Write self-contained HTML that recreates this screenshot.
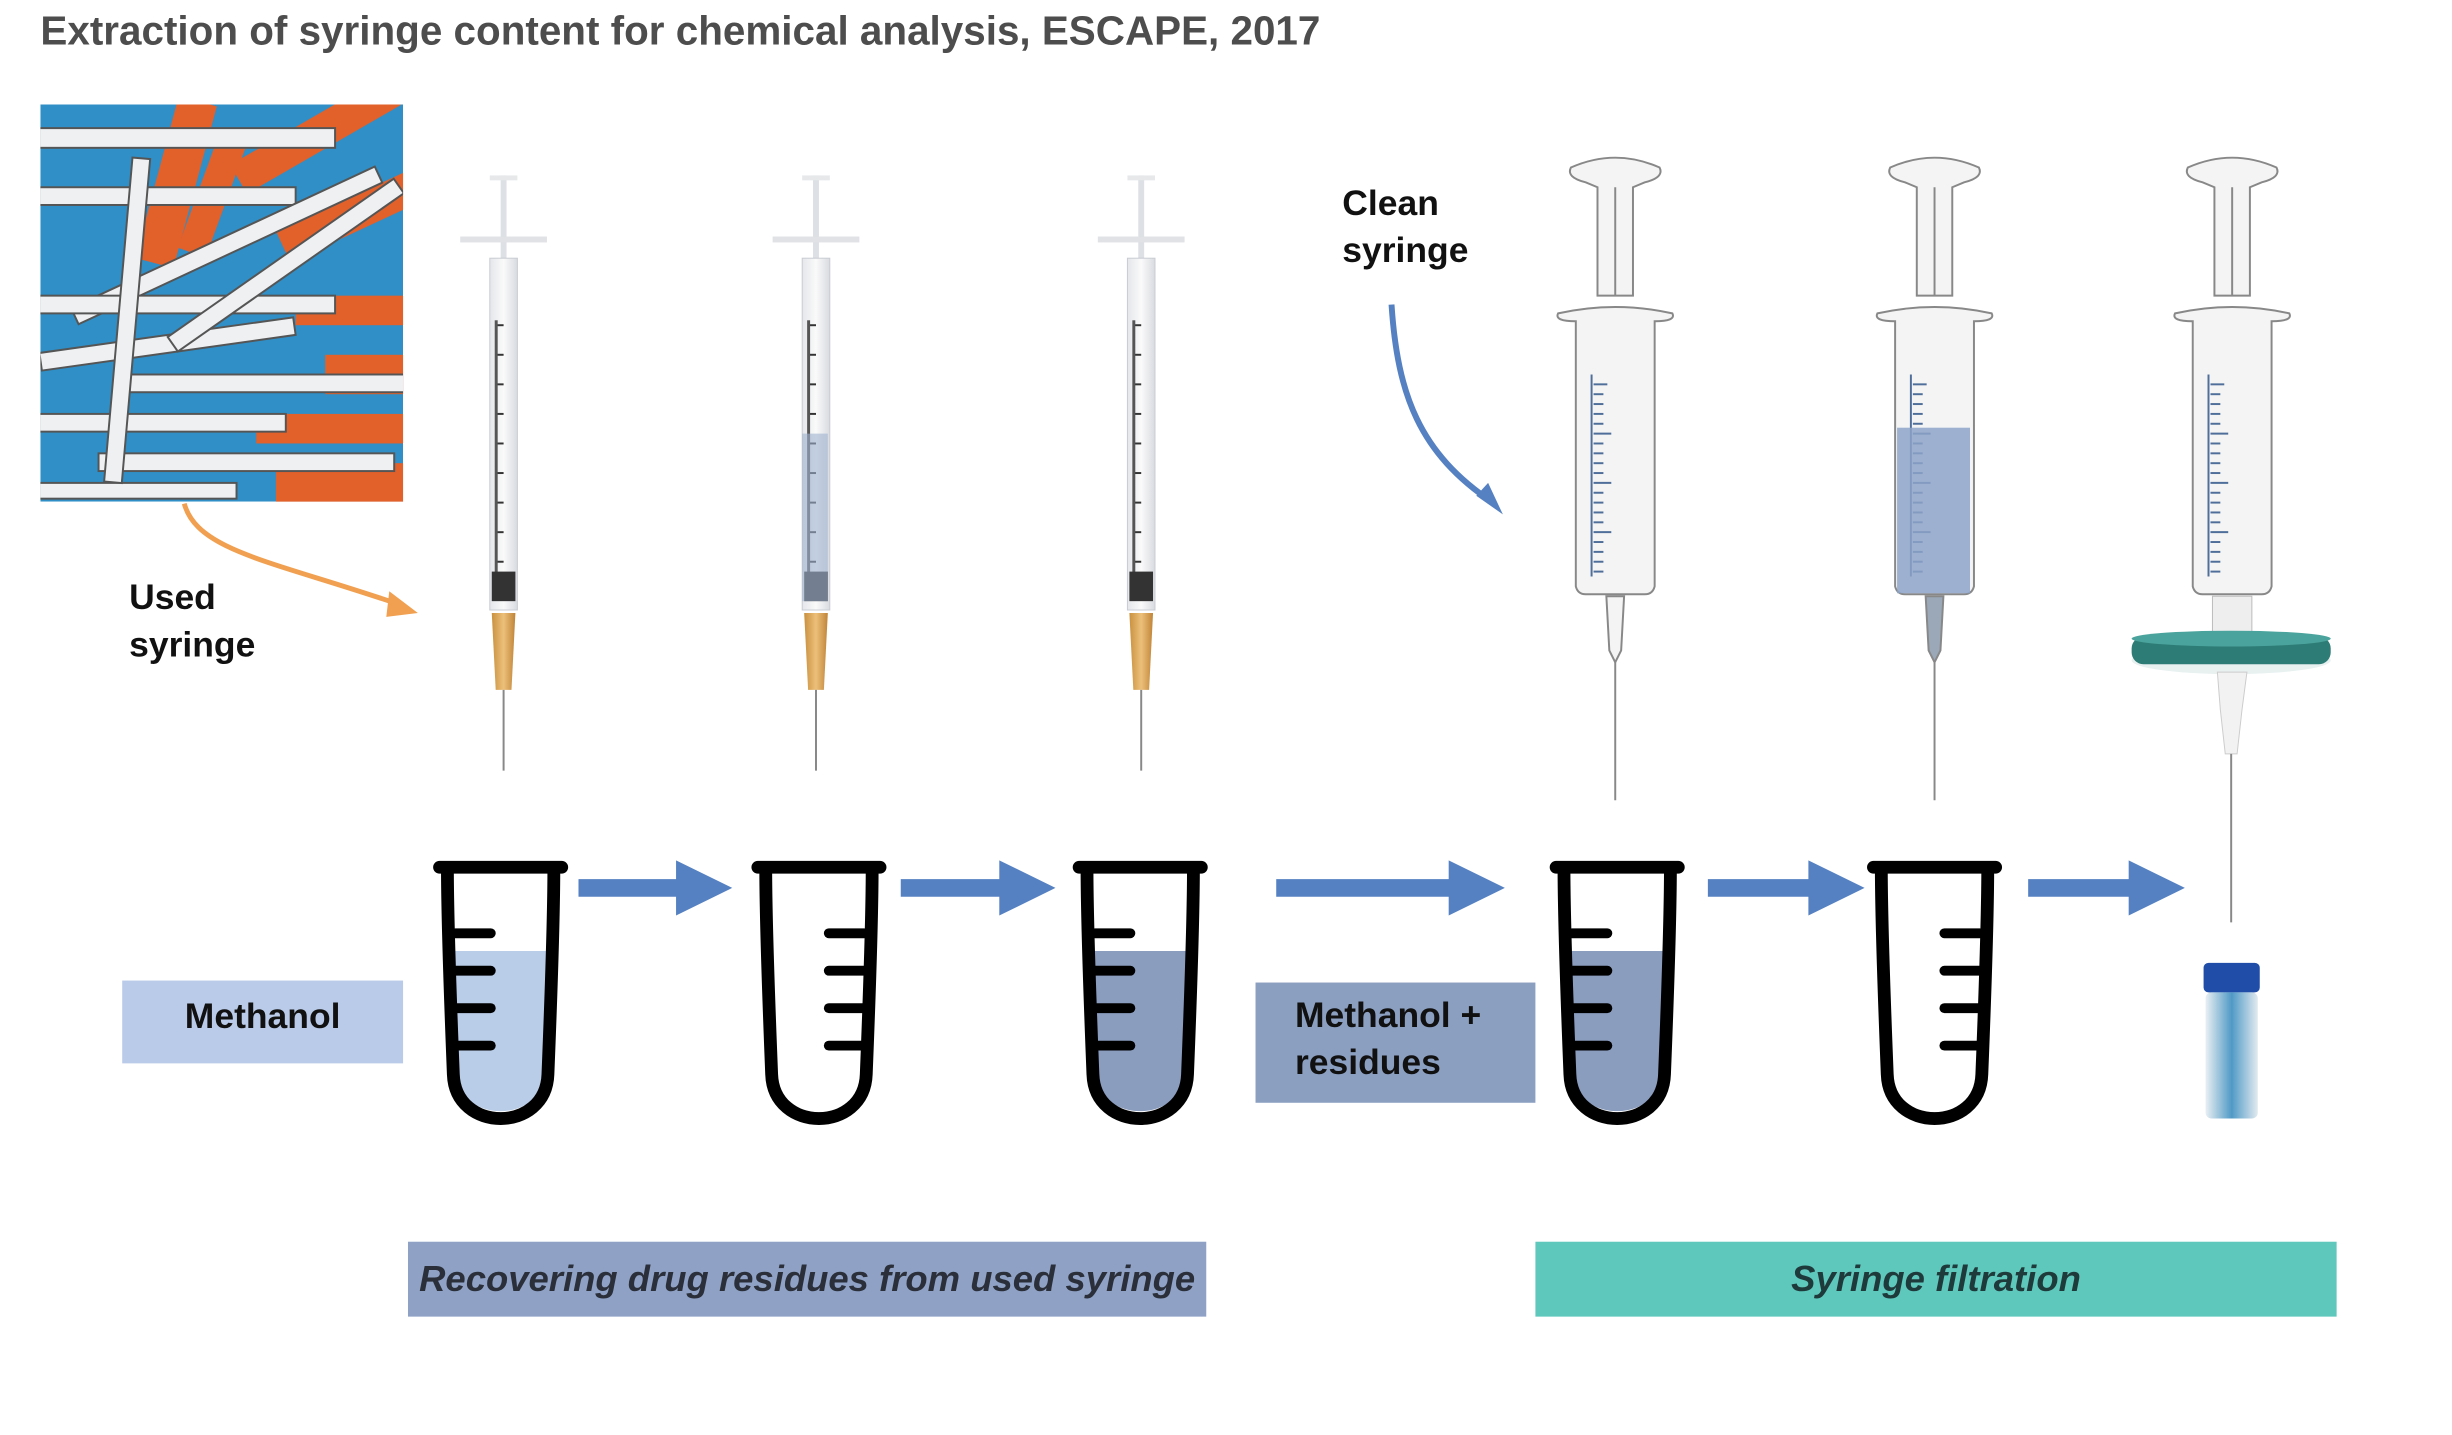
<!DOCTYPE html>
<html><head><meta charset="utf-8"><style>
html,body{margin:0;padding:0;background:#fff;}
body{width:2452px;height:1435px;overflow:hidden;position:relative;font-family:"Liberation Sans",sans-serif;}
#w{position:absolute;left:0;top:0;width:2452px;height:1435px;transform:scale(0.9855);transform-origin:0 0;}
.t{position:absolute;white-space:nowrap;}
</style></head><body><div id="w">
<svg width="2452" height="1435" viewBox="0 0 2452 1435" style="position:absolute;left:0;top:0">
<defs>
<linearGradient id="bar" x1="0" x2="1"><stop offset="0" stop-color="#e4e6ea"/><stop offset=".5" stop-color="#fafafa"/><stop offset="1" stop-color="#d8dbe0"/></linearGradient>
<linearGradient id="hub" x1="0" x2="1"><stop offset="0" stop-color="#c9913f"/><stop offset=".5" stop-color="#ecc07a"/><stop offset="1" stop-color="#c08438"/></linearGradient>
<linearGradient id="vial" x1="0" x2="1"><stop offset="0" stop-color="#e8eef2"/><stop offset=".5" stop-color="#3d8fc0"/><stop offset="1" stop-color="#dfe8ee"/></linearGradient>
<clipPath id="cc"><rect x="41" y="106" width="368" height="403"/></clipPath>
<g id="ss">
<rect x="-3" y="178" width="6" height="90" fill="#dde0e4"/>
<rect x="-14" y="178" width="28" height="5" fill="#e6e8ea"/>
<rect x="-44" y="240" width="88" height="6" fill="#e0e2e6"/>
<rect x="-14" y="262" width="28" height="357" fill="url(#bar)" stroke="#c8ccd2"/>
<g stroke="#333" stroke-width="2">
<line x1="-8" y1="330" x2="0" y2="330"/><line x1="-8" y1="360" x2="0" y2="360"/><line x1="-8" y1="390" x2="0" y2="390"/><line x1="-8" y1="420" x2="0" y2="420"/><line x1="-8" y1="450" x2="0" y2="450"/><line x1="-8" y1="480" x2="0" y2="480"/><line x1="-8" y1="510" x2="0" y2="510"/><line x1="-8" y1="540" x2="0" y2="540"/><line x1="-8" y1="570" x2="0" y2="570"/>
</g>
<rect x="-9" y="325" width="3" height="260" fill="#555"/>
<rect x="-12" y="580" width="24" height="30" fill="#333"/>
<path d="M-12,622 L12,622 L8,700 L-8,700 Z" fill="url(#hub)"/>
<line x1="0" y1="700" x2="0" y2="782" stroke="#888" stroke-width="2"/>
</g>
<g id="bs" fill="#f4f4f4" stroke="#888" stroke-width="2">
<path d="M-45,170 Q0,150 45,170 Q50,180 30,185 L18,190 L18,300 L-18,300 L-18,190 L-30,185 Q-50,180 -45,170 Z"/>
<line x1="0" y1="190" x2="0" y2="300"/>
<path d="M-58,318 Q0,305 58,318 Q62,326 40,326 L40,595 Q38,603 30,603 L-30,603 Q-38,603 -40,595 L-40,326 Q-62,326 -58,318 Z"/>
<g stroke="#4f6f9a" stroke-width="2">
<line x1="-22" y1="390" x2="-8" y2="390"/><line x1="-22" y1="400" x2="-12" y2="400"/><line x1="-22" y1="410" x2="-12" y2="410"/><line x1="-22" y1="420" x2="-12" y2="420"/><line x1="-22" y1="430" x2="-12" y2="430"/><line x1="-22" y1="440" x2="-4" y2="440"/><line x1="-22" y1="450" x2="-12" y2="450"/><line x1="-22" y1="460" x2="-12" y2="460"/><line x1="-22" y1="470" x2="-12" y2="470"/><line x1="-22" y1="480" x2="-12" y2="480"/><line x1="-22" y1="490" x2="-4" y2="490"/><line x1="-22" y1="500" x2="-12" y2="500"/><line x1="-22" y1="510" x2="-12" y2="510"/><line x1="-22" y1="520" x2="-12" y2="520"/><line x1="-22" y1="530" x2="-12" y2="530"/><line x1="-22" y1="540" x2="-4" y2="540"/><line x1="-22" y1="550" x2="-12" y2="550"/><line x1="-22" y1="560" x2="-12" y2="560"/><line x1="-22" y1="570" x2="-12" y2="570"/><line x1="-22" y1="580" x2="-12" y2="580"/>
<line x1="-24" y1="380" x2="-24" y2="585"/>
</g>
</g>
<path id="tube" d="M-62,880 L62,880 M-54,880 C-54,940 -50,1040 -48,1090 C-46,1150 46,1150 48,1090 C50,1040 54,940 54,880" fill="none" stroke="#000" stroke-width="13" stroke-linejoin="round" stroke-linecap="round"/>
<path id="liq" d="M-49,965 L49,965 C48,1020 46,1060 44,1090 C42,1140 -42,1140 -44,1090 C-46,1060 -48,1020 -49,965 Z"/>
<g id="tl" stroke="#000" stroke-width="10" stroke-linecap="round"><line x1="-46" y1="947" x2="-10" y2="947"/><line x1="-46" y1="985" x2="-10" y2="985"/><line x1="-46" y1="1023" x2="-10" y2="1023"/><line x1="-46" y1="1061" x2="-10" y2="1061"/></g>
</defs>
<!-- collage -->
<g clip-path="url(#cc)">
<rect x="41" y="106" width="368" height="403" fill="#2f8fc6"/>
<g fill="#e2602a">
<rect x="160" y="100" width="40" height="170" transform="rotate(15 180 180)"/>
<rect x="230" y="120" width="180" height="34" transform="rotate(-30 320 137)"/>
<rect x="280" y="200" width="160" height="34" transform="rotate(-25 360 217)"/>
<rect x="300" y="300" width="120" height="30"/>
<rect x="260" y="420" width="160" height="30"/>
<rect x="330" y="360" width="90" height="40"/>
<rect x="200" y="140" width="30" height="120" transform="rotate(20 215 200)"/>
<rect x="280" y="470" width="140" height="40"/>
</g>
<g fill="#eef0f2" stroke="#555" stroke-width="2">
<rect x="40" y="130" width="300" height="20"/>
<rect x="40" y="190" width="260" height="18"/>
<rect x="60" y="240" width="340" height="18" transform="rotate(-25 230 249)"/>
<rect x="40" y="300" width="300" height="18"/>
<rect x="40" y="340" width="260" height="18" transform="rotate(-8 170 349)"/>
<rect x="120" y="380" width="290" height="18"/>
<rect x="40" y="420" width="250" height="18"/>
<rect x="100" y="460" width="300" height="18"/>
<rect x="40" y="490" width="200" height="16"/>
<rect x="120" y="160" width="18" height="330" transform="rotate(5 129 325)"/>
<rect x="150" y="260" width="280" height="18" transform="rotate(-35 290 269)"/>
</g>
</g>
<path d="M187,511 C200,560 280,570 410,615" fill="none" stroke="#f0a050" stroke-width="5"/>
<path d="M395,600 L424,622 L392,626 Z" fill="#f0a050"/>
<path d="M1412,309 C1418,400 1440,460 1515,510" fill="none" stroke="#5581c2" stroke-width="6"/>
<path d="M1498,503 L1525,522 L1510,490 Z" fill="#5581c2"/>
<use href="#ss" transform="translate(511,0)"/>
<use href="#ss" transform="translate(828,0)"/>
<use href="#ss" transform="translate(1158,0)"/>
<rect x="814" y="440" width="26" height="170" fill="#9fb2cf" opacity=".6"/>
<use href="#bs" transform="translate(1639,0)"/>
<use href="#bs" transform="translate(1963,0)"/>
<use href="#bs" transform="translate(2265,0)"/>
<rect x="1925" y="434" width="74" height="168" fill="#8da3c8" opacity=".85"/>
<path d="M1630,605 L1648,605 L1645,660 L1639,672 L1633,660 Z" fill="#f4f4f4" stroke="#888" stroke-width="2"/>
<line x1="1639" y1="672" x2="1639" y2="812" stroke="#888" stroke-width="2"/>
<path d="M1954,605 L1972,605 L1969,660 L1963,672 L1957,660 Z" fill="#9aa8b8" stroke="#888" stroke-width="2"/>
<line x1="1963" y1="672" x2="1963" y2="812" stroke="#888" stroke-width="2"/>
<rect x="2245" y="605" width="40" height="40" fill="#eee" stroke="#bbb"/>
<ellipse cx="2264" cy="670" rx="101" ry="14" fill="#e8f0f0"/>
<rect x="2163" y="646" width="202" height="28" rx="12" fill="#2e7c76"/>
<ellipse cx="2264" cy="648" rx="101" ry="8" fill="#4aa39c"/>
<path d="M2250,682 L2280,682 L2275,720 L2270,765 L2258,765 L2253,720 Z" fill="#f2f2f2" stroke="#ccc"/>
<line x1="2264" y1="765" x2="2264" y2="936" stroke="#888" stroke-width="2"/>
<rect x="2236" y="977" width="57" height="30" rx="5" fill="#1f4da8"/>
<rect x="2238" y="1007" width="53" height="128" rx="6" fill="url(#vial)" opacity=".9"/>
<!-- tubes -->
<use href="#liq" fill="#b9cde8" transform="translate(508,0)"/>
<use href="#liq" fill="#8a9dbf" transform="translate(1157,0)"/>
<use href="#liq" fill="#8a9dbf" transform="translate(1641,0)"/>
<use href="#tube" transform="translate(508,0)"/><use href="#tl" transform="translate(508,0)"/>
<use href="#tube" transform="translate(831,0)"/><use href="#tl" transform="translate(831,0) scale(-1,1)"/>
<use href="#tube" transform="translate(1157,0)"/><use href="#tl" transform="translate(1157,0)"/>
<use href="#tube" transform="translate(1641,0)"/><use href="#tl" transform="translate(1641,0)"/>
<use href="#tube" transform="translate(1963,0)"/><use href="#tl" transform="translate(1963,0) scale(-1,1)"/>
<g fill="#5581c2">
<path d="M587,892 L686,892 L686,873 L743,901 L686,929 L686,910 L587,910 Z"/>
<path d="M914,892 L1014,892 L1014,873 L1071,901 L1014,929 L1014,910 L914,910 Z"/>
<path d="M1295,892 L1470,892 L1470,873 L1527,901 L1470,929 L1470,910 L1295,910 Z"/>
<path d="M1733,892 L1835,892 L1835,873 L1892,901 L1835,929 L1835,910 L1733,910 Z"/>
<path d="M2058,892 L2160,892 L2160,873 L2217,901 L2160,929 L2160,910 L2058,910 Z"/>
</g>
<rect x="124" y="995" width="285" height="84" fill="#b9cbe8"/>
<rect x="1274" y="997" width="284" height="122" fill="#8b9fc1"/>
<rect x="414" y="1260" width="810" height="76" fill="#8fa2c6"/>
<rect x="1558" y="1260" width="813" height="76" fill="#5ec8bd"/>
</svg>
<div class="t" style="left:41px;top:8px;font-size:41px;font-weight:bold;color:#4d4d4d">Extraction of syringe content for chemical analysis, ESCAPE, 2017</div>
<div class="t" style="left:131px;top:582px;font-size:36px;font-weight:bold;color:#111;line-height:48px">Used<br>syringe</div>
<div class="t" style="left:1362px;top:182px;font-size:36px;font-weight:bold;color:#111;line-height:48px">Clean<br>syringe</div>
<div class="t" style="left:124px;top:1010px;width:285px;text-align:center;font-size:36px;font-weight:bold;color:#111">Methanol</div>
<div class="t" style="left:1314px;top:1006px;font-size:36px;font-weight:bold;color:#111;line-height:48px">Methanol +<br>residues</div>
<div class="t" style="left:414px;top:1277px;width:810px;text-align:center;font-size:37px;font-style:italic;font-weight:bold;color:#2a2f3a">Recovering drug residues from used syringe</div>
<div class="t" style="left:1558px;top:1277px;width:813px;text-align:center;font-size:37px;font-style:italic;font-weight:bold;color:#1f3a3a">Syringe filtration</div>
</div></body></html>
